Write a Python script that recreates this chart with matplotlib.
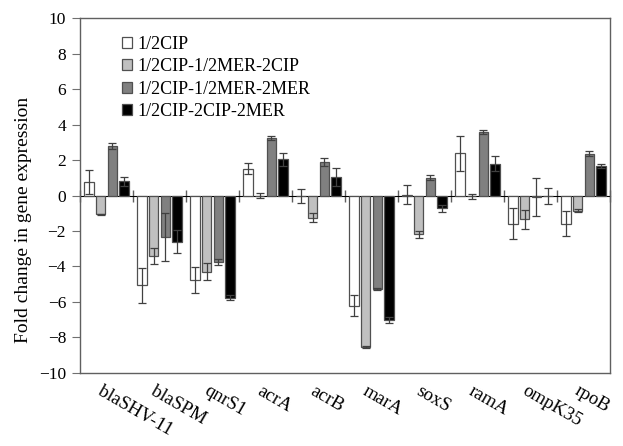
import numpy as np
import matplotlib
matplotlib.use("Agg")
import matplotlib.pyplot as plt
import matplotlib.transforms as mtransforms

plt.rcParams["font.family"] = ["Liberation Serif", "DejaVu Serif"]

genes = ["blaSHV-11", "blaSPM", "qnrS1", "acrA", "acrB", "marA", "soxS", "ramA", "ompK35", "rpoB"]
series = ["1/2CIP", "1/2CIP-1/2MER-2CIP", "1/2CIP-1/2MER-2MER", "1/2CIP-2CIP-2MER"]

cip = [0.75, -5.07, -4.75, 1.52, -0.05, -6.2, 0.05, 2.38, -1.58, -1.58]
cip_err = [0.68, 0.97, 0.72, 0.3, 0.4, 0.6, 0.55, 1.0, 0.85, 0.68]
mer_cip = [-1.07, -3.42, -4.3, 0.0, -1.26, -8.52, -2.18, -0.05, -1.35, -0.85]
mer_cip_err = [0.05, 0.45, 0.48, 0.12, 0.25, 0.05, 0.2, 0.15, 0.52, 0.1]
mer_mer = [2.78, -2.33, -3.76, 3.25, 1.9, -5.25, 1.0, 3.59, -0.1, 2.35]
mer_mer_err = [0.18, 1.37, 0.18, 0.1, 0.22, 0.05, 0.15, 0.1, 1.07, 0.15]
cip_mer = [0.79, -2.61, -5.76, 2.03, 1.03, -7.04, -0.73, 1.79, -0.05, 1.67]
cip_mer_err = [0.25, 0.65, 0.15, 0.34, 0.5, 0.17, 0.2, 0.42, 0.45, 0.13]

values = [cip, mer_cip, mer_mer, cip_mer]
errors = [cip_err, mer_cip_err, mer_mer_err, cip_mer_err]
colors = ["white", "#c0c0c0", "#808080", "black"]

fig = plt.figure(figsize=(6.23, 4.46), dpi=100)
ax = fig.add_axes([0.1284, 0.1637, 0.8507, 0.7959])

x = np.arange(len(genes))
step = 0.219
width = 0.18
for k, (vals, errs, c) in enumerate(zip(values, errors, colors)):
    ax.bar(x + (k - 1.5) * step, vals, width, color=c, edgecolor="#505050",
           linewidth=0.9, label=series[k],
           yerr=errs, error_kw=dict(ecolor="#404040", elinewidth=0.9, capsize=3, capthick=0.9))

ax.set_xlim(-0.5, len(genes) - 0.5)
ax.set_ylim(-10, 10)
ax.set_yticks(np.arange(-10, 11, 2))
ax.tick_params(axis="y", direction="out", length=6, color="#707070", labelsize=12.5, pad=4)
ax.set_ylabel("Fold change in gene expression", fontsize=14)
ax.yaxis.set_label_coords(-0.09, 0.43)

ax.set_xticks(x)
ax.set_xticklabels(genes, fontsize=13.5, rotation=-30, ha="left", va="top",
                   rotation_mode="anchor")
ax.tick_params(axis="x", length=0, pad=7)
offset = mtransforms.ScaledTranslation(-3 / 100, 0, fig.dpi_scale_trans)
for lbl in ax.get_xticklabels():
    lbl.set_transform(lbl.get_transform() + offset)

for sp in ax.spines.values():
    sp.set_color("#606060")
    sp.set_linewidth(1.0)

# zero line with group boundary ticks
zero = ax.secondary_xaxis(0.5)
zero.set_xticks(np.arange(-0.5, len(genes), 1.0))
zero.set_xticklabels([])
zero.tick_params(direction="inout", length=9, color="#606060", width=1.0)
zero.spines["bottom"].set_color("#606060")

leg = ax.legend(loc="upper left", bbox_to_anchor=(0.065, 0.97), frameon=False,
                fontsize=13, handlelength=0.55, handleheight=0.55, handletextpad=0.3,
                labelspacing=0.3, borderaxespad=0)

fig.savefig("out.png", dpi=100)
